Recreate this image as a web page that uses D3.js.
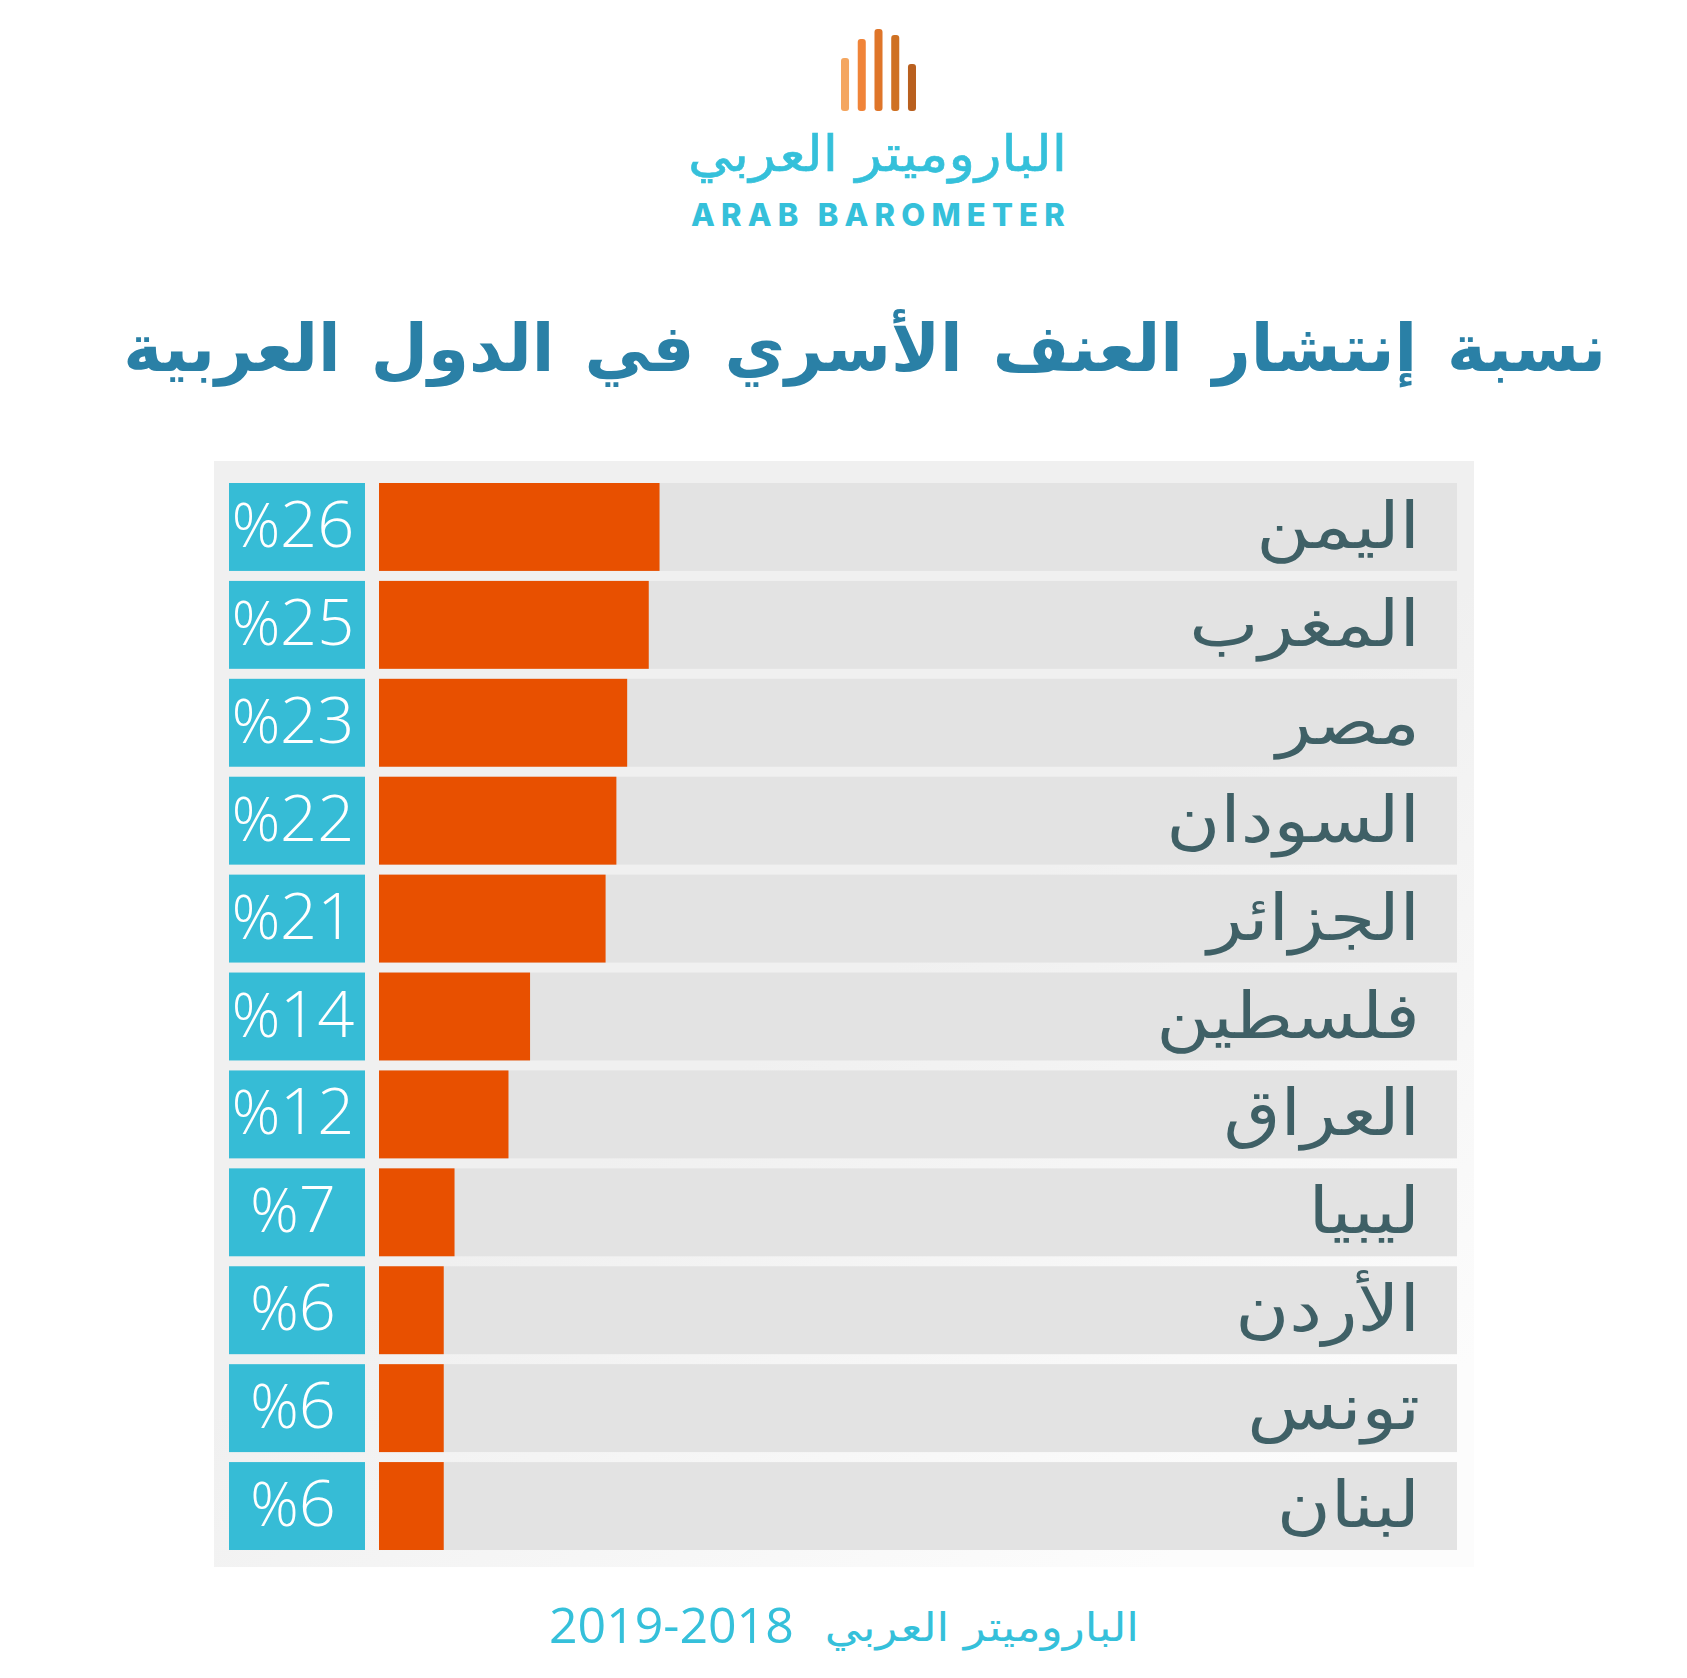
<!DOCTYPE html>
<html lang="ar">
<head>
<meta charset="utf-8">
<script src="https://d3js.org/d3.v7.min.js"></script>
<style>
  html, body { margin: 0; background: #fff; }
  svg { display: block; }
</style>
</head>
<body>
<svg id="chart" width="1687" height="1678"></svg>
<script>
const countries = ["اليمن", "المغرب", "مصر", "السودان", "الجزائر", "فلسطين", "العراق", "ليبيا", "الأردن", "تونس", "لبنان"];
const values = [26, 25, 23, 22, 21, 14, 12, 7, 6, 6, 6];
const logoHeights = [53, 72, 82, 76, 47];
const logoColors = ["#f4a660", "#f08439", "#df7529", "#cf7122", "#b9601f"];

const titleText = "نسبة إنتشار العنف الأسري في الدول العربية";
const logoArabic = "الباروميتر العربي";
const logoLatin = "ARAB BAROMETER";
const sourceArabic = "الباروميتر العربي";
const sourceYears = "2019-2018";

const arabicFont = "'DejaVu Sans', sans-serif";
const latinFont = "'Open Sans', sans-serif";
const cyan = "#35c0da";

const svg = d3.select("#chart");

// the source art has wider arabic letters than DejaVu, so stretch it sideways
const arabicText = (parent, str, right, base, size, stretch) =>
  parent.append("text")
    .attr("transform", `translate(${right},${base}) scale(${stretch},1)`)
    .attr("direction", "rtl")
    .attr("text-anchor", "start")
    .attr("font-family", arabicFont)
    .attr("font-size", size)
    .text(str);

// panel fades out a little towards the bottom right
const grad = svg.append("defs").append("linearGradient")
  .attr("id", "panelFade")
  .attr("x1", 0).attr("y1", 0).attr("x2", 0.75).attr("y2", 1);
grad.append("stop").attr("offset", "0.55").attr("stop-color", "#f0f0f0");
grad.append("stop").attr("offset", "1").attr("stop-color", "#fcfcfc");

// logo
const logoX = d3.scaleBand().domain(d3.range(logoHeights.length)).range([841, 916]).paddingInner(0.52);
const logoY = d3.scaleLinear().domain([0, 82]).range([111, 29]);
svg.append("g").selectAll("rect")
  .data(logoHeights)
  .join("rect")
  .attr("x", (d, i) => logoX(i))
  .attr("y", (d) => logoY(d))
  .attr("width", logoX.bandwidth())
  .attr("height", (d) => logoY(0) - logoY(d))
  .attr("rx", 3)
  .attr("fill", (d, i) => logoColors[i]);

arabicText(svg, logoArabic, 1067, 171, 50, 1.1)
  .attr("fill", cyan)
  .attr("stroke", cyan)
  .attr("stroke-width", 0.6);

svg.append("text")
  .attr("x", 881).attr("y", 226)
  .attr("text-anchor", "middle")
  .attr("font-family", "Inter, sans-serif")
  .attr("font-weight", 800)
  .attr("font-size", 31)
  .attr("letter-spacing", 6.2)
  .attr("fill", cyan)
  .text(logoLatin);

// title
arabicText(svg, titleText, 1606, 371, 66, 1)
  .attr("font-weight", 700)
  .attr("word-spacing", 7)
  .attr("fill", "#2a80a6");

// panel
svg.append("rect")
  .attr("x", 214).attr("y", 461)
  .attr("width", 1260).attr("height", 1106)
  .attr("fill", "url(#panelFade)");

const y = d3.scaleBand()
  .domain(countries)
  .range([483, 1550])
  .paddingInner(10 / 98);
const x = d3.scaleLinear().domain([0, 100]).range([379, 1458]);

const rows = svg.append("g").selectAll("g")
  .data(countries.map((c, i) => ({ country: c, value: values[i] })))
  .join("g")
  .attr("transform", (d) => `translate(0,${y(d.country)})`);

rows.append("rect")
  .attr("x", x(0))
  .attr("width", x(100) - x(0) - 1)
  .attr("height", y.bandwidth())
  .attr("fill", "#e3e3e3");

rows.append("rect")
  .attr("x", x(0))
  .attr("width", (d) => x(d.value) - x(0))
  .attr("height", y.bandwidth())
  .attr("fill", "#e85000");

rows.append("rect")
  .attr("x", 229)
  .attr("width", 136)
  .attr("height", y.bandwidth())
  .attr("fill", "#36bcd6");

const valueLabels = rows.append("text")
  .attr("x", 293)
  .attr("y", y.bandwidth() / 2 + 20)
  .attr("text-anchor", "middle")
  .attr("font-family", latinFont)
  .attr("font-weight", 300)
  .attr("fill", "#fff");
valueLabels.append("tspan").attr("font-size", 60).text("%");
valueLabels.append("tspan").attr("font-size", 65).text((d) => d.value);

rows.each(function (d) {
  arabicText(d3.select(this), d.country, 1420, y.bandwidth() / 2 + 21, 64, 1.15)
    .attr("fill", "#3f6066");
});

// source line
arabicText(svg, sourceArabic, 1139, 1641, 40, 1.14).attr("fill", cyan);

svg.append("text")
  .attr("x", 549).attr("y", 1643)
  .attr("font-family", latinFont)
  .attr("font-weight", 500)
  .attr("font-size", 50)
  .attr("fill", cyan)
  .text(sourceYears);
</script>
</body>
</html>
